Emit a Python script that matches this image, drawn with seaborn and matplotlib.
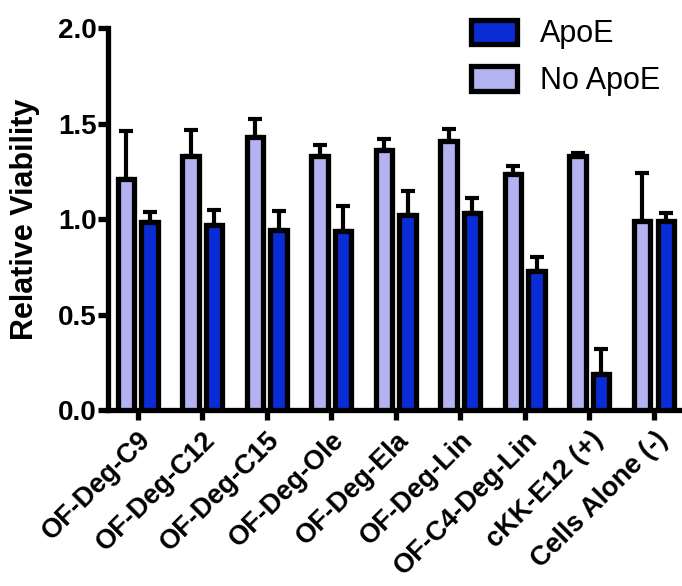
"""
Relative viability with / without ApoE, grouped bar chart.
"""

import pandas as pd
import numpy as np
import matplotlib.pyplot as plt
import seaborn as sns

# categories and values
lipids = ['OF-Deg-C9', 'OF-Deg-C12', 'OF-Deg-C15', 'OF-Deg-Ole', 'OF-Deg-Ela',
          'OF-Deg-Lin', 'OF-C4-Deg-Lin', 'cKK-E12 (+)', 'Cells Alone (-)']
no_apoe = [1.21, 1.33, 1.43, 1.33, 1.36, 1.41, 1.235, 1.33, 0.99]
no_apoe_err = [0.25, 0.135, 0.095, 0.06, 0.06, 0.06, 0.045, 0.015, 0.25]
apoe = [0.985, 0.97, 0.945, 0.94, 1.02, 1.03, 0.73, 0.19, 0.99]
apoe_err = [0.05, 0.08, 0.10, 0.13, 0.13, 0.08, 0.07, 0.13, 0.04]

groups = ['No ApoE', 'ApoE']
colors = {'No ApoE': '#B3B3F1', 'ApoE': '#0A2CD6'}

df = pd.DataFrame({
    'lipid': lipids * 2,
    'group': ['No ApoE'] * len(lipids) + ['ApoE'] * len(lipids),
    'viability': no_apoe + apoe,
})
errs = {'No ApoE': no_apoe_err, 'ApoE': apoe_err}

sns.set_style('ticks')
plt.rcParams['font.family'] = ['Liberation Sans', 'DejaVu Sans']
plt.rcParams.update({'text.color': 'black', 'axes.labelcolor': 'black',
                     'xtick.color': 'black', 'ytick.color': 'black',
                     'axes.edgecolor': 'black'})

fig = plt.figure(figsize=(6.82, 5.86), dpi=100)
ax = fig.add_axes([0.158, 0.300, 0.842, 0.652])

sns.barplot(data=df, x='lipid', y='viability', hue='group', hue_order=groups,
            order=lipids, palette=colors, saturation=1, errorbar=None,
            width=0.73, gap=0.3, edgecolor='black', linewidth=3.8, ax=ax, zorder=3)
for p in ax.patches:
    p.set_linewidth(3.8)
    p.set_edgecolor('black')

# upward-only error bars (GraphPad style)
for cont, g in zip(ax.containers, groups):
    xs = [p.get_x() + p.get_width() / 2 for p in cont.patches]
    hs = [p.get_height() for p in cont.patches]
    yerr = [np.zeros(len(hs)), errs[g]]
    _, caps, bars = ax.errorbar(xs, hs, yerr=yerr, fmt='none', ecolor='black',
                                elinewidth=3.0, capsize=5, capthick=3.0, zorder=2)
    for c in caps:
        c.set_solid_capstyle('round')

ax.set_ylim(0, 2.0)
ax.set_xlim(-0.465, 8.434)
ax.set_yticks([0.0, 0.5, 1.0, 1.5, 2.0])
ax.set_yticklabels(['0.0', '0.5', '1.0', '1.5', '2.0'], fontsize=20, fontweight='bold')
ax.set_xticks(range(len(lipids)))
ax.set_xticklabels(lipids, rotation=45, ha='right', rotation_mode='anchor',
                   fontsize=19.5, fontweight='bold')
ax.set_xlabel('')
ax.set_ylabel('Relative Viability', fontsize=22, fontweight='bold', labelpad=13)

for s in ['top', 'right']:
    ax.spines[s].set_visible(False)
for s in ['left', 'bottom']:
    ax.spines[s].set_linewidth(3.8)
ax.tick_params(axis='both', width=3.8, length=7, pad=1)
ax.tick_params(axis='x', pad=5)

# legend: ApoE first, then No ApoE
handles, labels = ax.get_legend_handles_labels()
ax.legend(handles[::-1], labels[::-1], loc='upper right', bbox_to_anchor=(1.01, 1.095),
          frameon=False, fontsize=22, handlelength=1.5, handleheight=0.85,
          handletextpad=0.75, labelspacing=0.55)

fig.savefig('out.png', dpi=100)
